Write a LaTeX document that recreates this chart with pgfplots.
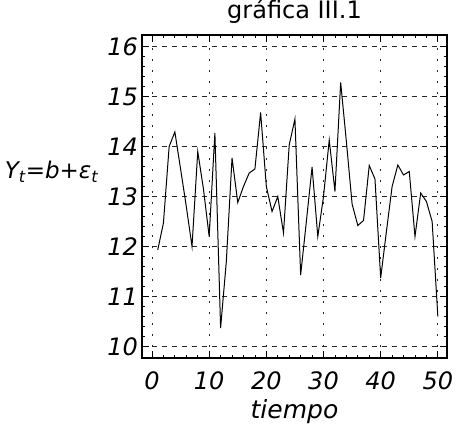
\documentclass[border=0pt]{standalone}
\usepackage{pgfplots}
\pgfplotsset{compat=1.18}
\usepackage{fontspec}
\setmainfont{DejaVu Sans}
\begin{document}
\begin{tikzpicture}
\useasboundingbox (-142pt,-68pt) rectangle (314pt,358pt);
\begin{axis}[
  scale only axis,
  width=305pt, height=323pt,
  xmin=-1.75, xmax=51.6,
  ymin=9.77, ymax=16.23,
  xtick={0,10,20,30,40,50},
  ytick={10,11,12,13,14,15,16},
  minor x tick num=4,
  minor y tick num=4,
  major tick length=7pt,
  minor tick length=3.5pt,
  tick style={black, line width=0.8pt},
  axis line style={black, line width=1.2pt},
  grid=major,
  major x grid style={black!85, line width=1pt, dash pattern=on 2pt off 9pt},
  major y grid style={black!85, line width=1pt, dash pattern=on 5pt off 5pt},
  /pgf/number format/assume math mode=true,
  ticklabel style={font=\fontsize{24}{27}\selectfont\itshape},
  xticklabel style={yshift=-10pt},
  yticklabel style={inner xsep=1pt, xshift=-3pt},
  title={gráfica III.1},
  title style={font=\fontsize{24}{27}\selectfont, at={(axis description cs:0.5,1)}, anchor=base, yshift=10pt},
  xlabel={tiempo},
  xlabel style={font=\fontsize{25}{28}\selectfont\itshape, at={(axis description cs:0.5,0)}, anchor=north, inner sep=0pt, yshift=-41pt},
  clip=false,
]
\addplot[black, line width=1pt] coordinates {
(1,11.93) (2,12.47) (3,14.0) (4,14.29) (5,13.55) (6,12.8) (7,12.0) (8,13.9) (9,13.15) (10,12.2)
(11,14.27) (12,10.37) (13,11.7) (14,13.77) (15,12.88) (16,13.2) (17,13.47) (18,13.55) (19,14.68) (20,13.2)
(21,12.7) (22,13.0) (23,12.27) (24,14.03) (25,14.55) (26,11.43) (27,12.5) (28,13.59) (29,12.2) (30,13.0)
(31,14.13) (32,13.1) (33,15.28) (34,14.1) (35,12.85) (36,12.42) (37,12.52) (38,13.62) (39,13.35) (40,11.37)
(41,12.3) (42,13.2) (43,13.63) (44,13.43) (45,13.5) (46,12.2) (47,13.07) (48,12.9) (49,12.5) (50,10.6)
};
\node[font=\fontsize{23}{26}\selectfont\itshape, anchor=west, inner sep=0pt] at (axis description cs:-0.45,0.576) {Y\textsubscript{t}=b+ε\textsubscript{t}};
\end{axis}
\end{tikzpicture}
\end{document}
